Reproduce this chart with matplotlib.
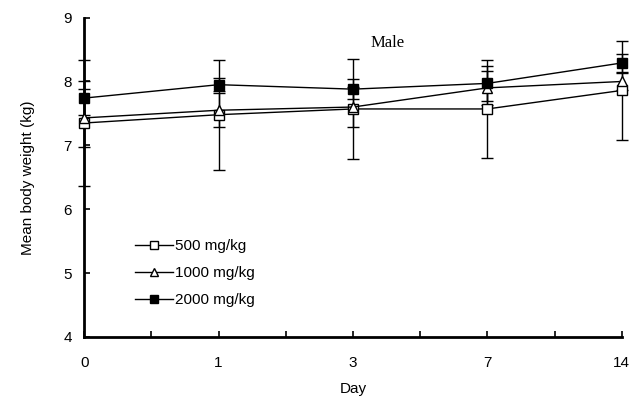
import numpy as np
import matplotlib
matplotlib.use("Agg")
import matplotlib.pyplot as plt

plt.rcParams['font.family'] = ['Liberation Sans', 'DejaVu Sans']

days = ['0', '1', '3', '7', '14']
groups = ['500 mg/kg', '1000 mg/kg', '2000 mg/kg']

# mean body weight (kg) and SD
mean_500 = [7.35, 7.48, 7.57, 7.57, 7.86]
sd_500 = [0.98, 0.86, 0.78, 0.77, 0.78]
mean_1000 = [7.43, 7.55, 7.60, 7.90, 8.00]
sd_1000 = [0.45, 0.27, 0.31, 0.27, 0.14]
mean_2000 = [7.74, 7.95, 7.88, 7.97, 8.29]
sd_2000 = [0.27, 0.10, 0.16, 0.28, 0.14]

fig = plt.figure(figsize=(6.43, 4.0), dpi=100)
ax = fig.add_axes([0.131, 0.1575, 0.836, 0.7985])

x = np.arange(len(days))
styles = [('s', 'white'), ('^', 'white'), ('s', 'black')]
series = [(mean_500, sd_500), (mean_1000, sd_1000), (mean_2000, sd_2000)]
for (m, s), (mk, fc), lab in zip(series, styles, groups):
    ax.errorbar(x, m, yerr=s, color='black', lw=1.0, marker=mk, ms=6.5,
                mfc=fc, mec='black', mew=1.0, capsize=4, capthick=1.0,
                elinewidth=1.0, label=lab, clip_on=False, zorder=3)

ax.set_xlim(0, 4)
ax.set_ylim(4, 9)
ax.set_xticks(x)
ax.set_xticklabels(days)
ax.set_xticks(np.arange(0.5, 4, 1), minor=True)
ax.set_yticks(range(4, 10))
ax.tick_params(axis='both', direction='in', length=4, width=1.2, labelsize=11)
ax.tick_params(axis='x', which='minor', direction='in', length=4, width=1.2)
ax.tick_params(axis='x', pad=14)
ax.tick_params(axis='y', pad=9)

for side in ['top', 'right']:
    ax.spines[side].set_visible(False)
for side in ['left', 'bottom']:
    ax.spines[side].set_linewidth(2)

ax.set_xlabel('Day', fontsize=11, labelpad=8)
ax.set_ylabel('Mean body weight (kg)', fontsize=11, labelpad=20)

ax.text(2.26, 8.61, 'Male', fontsize=12, family='Liberation Serif',
        ha='center', va='center')

handles, labels = ax.get_legend_handles_labels()
handles = [h[0] for h in handles]
ax.legend(handles, labels, loc='center left', bbox_to_anchor=(0.08, 0.2),
          frameon=False, fontsize=11, handlelength=2.5, handletextpad=0.1,
          labelspacing=0.85, borderpad=0, markerscale=0.8)

fig.savefig('out.png', dpi=100)
